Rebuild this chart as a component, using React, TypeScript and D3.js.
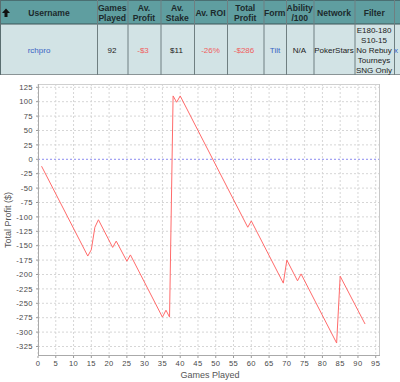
import React from "react";
import * as d3 from "d3";

// ---- Table data ----
const headerLines: string[][] = [
  ["Username"],
  ["Games", "Played"],
  ["Av.", "Profit"],
  ["Av.", "Stake"],
  ["Av. ROI"],
  ["Total", "Profit"],
  ["Form"],
  ["Ability", "/100"],
  ["Network"],
  ["Filter"],
  [],
];
const rowValues: string[] = ["rchpro", "92", "-$3", "$11", "-26%", "-$286", "Tilt", "N/A", "PokerStars", "", "x"];
const filterLines: string[] = ["E180-180", "S10-15", "No Rebuy", "Tourneys", "SNG Only"];

// ---- Chart data (turning points of the cumulative profit line) ----
const games: number[] = [1, 14, 15, 16, 17, 21, 22, 25, 26, 35, 36, 37, 38, 39, 40, 59, 60, 69, 70, 73, 74, 84, 85, 92];
const profit: number[] = [-12, -168, -157, -118, -105, -153, -142, -177, -166, -274, -262, -274, 110, 99, 110, -118, -107, -215, -175, -211, -199, -319, -203, -286];
const xTicks: number[] = [0, 5, 10, 15, 20, 25, 30, 35, 40, 45, 50, 55, 60, 65, 70, 75, 80, 85, 90, 95];
const yTicks: number[] = [125, 100, 75, 50, 25, 0, -25, -50, -75, -100, -125, -150, -175, -200, -225, -250, -275, -300, -325];

const colEdges = [0, 97, 127.5, 160.5, 194, 227, 263.5, 286, 313.5, 354.5, 394, 400];
const dataX = [39, 112, 143, 176.5, 210.5, 244, 275, 299.5, 334, 374, 396];

const red = "#f06060";
const blue = "#3a64c4";

export default function App() {
  const left = 38, right = 380, top = 84, bottom = 356;
  const x = d3.scaleLinear().domain([0, 96.2]).range([left, right]);
  const y = d3.scaleLinear().domain([-341.5, 130.7]).range([bottom, top]);
  const pts = games.map((g, i) => [g, profit[i]] as [number, number]);
  const line = d3.line<[number, number]>().x((d) => x(d[0])).y((d) => y(d[1]));
  const font = "'Liberation Sans', Arial, sans-serif";

  return (
    <svg width={400} height={382} style={{ position: "absolute", left: 0, top: 0, background: "#fff" }} fontFamily={font}>
      {/* table */}
      <rect x={0} y={0} width={400} height={24} fill="#5f9ea0" />
      <rect x={0} y={24} width={400} height={50.5} fill="#d2e3e5" />
      <line x1={0} x2={400} y1={0.5} y2={0.5} stroke="#4a6f72" />
      <line x1={0} x2={400} y1={24} y2={24} stroke="#3d5557" strokeWidth={1.2} />
      <line x1={0} x2={400} y1={74.5} y2={74.5} stroke="#8a9496" />
      {colEdges.slice(0, -1).map((cx, i) => (
        <line key={"ce" + i} x1={cx + 0.5} x2={cx + 0.5} y1={0} y2={75} stroke={i === 0 ? "#5a6e70" : "#6f7f81"} />
      ))}
      {/* sort arrow */}
      <path d="M6,8.5 L10,13 L7.5,13 L7.5,17 L4.5,17 L4.5,13 L2,13 Z" fill="#111" />
      {headerLines.map((lines, i) => {
        const cx = i === 0 ? 49 : (colEdges[i] + colEdges[i + 1]) / 2;
        return lines.map((t, j) => (
          <text key={"h" + i + "-" + j} x={cx} y={lines.length === 1 ? 16 : 10.5 + j * 10}
            textAnchor="middle" fontSize={8.6} fontWeight="bold" fill="#1c2a2c">{t}</text>
        ));
      })}
      {rowValues.map((v, i) => {
        if (!v) return null;
        const color = i === 0 || i === 6 || i === 10 ? blue : v.startsWith("-") ? red : "#222";
        return (
          <text key={"v" + i} x={dataX[i]} y={53} textAnchor="middle" fontSize={8} fill={color}>{v}</text>
        );
      })}
      {filterLines.map((t, j) => (
        <text key={"f" + j} x={dataX[9]} y={33 + j * 10} textAnchor="middle" fontSize={8} fill="#222">{t}</text>
      ))}

      {/* chart grid */}
      {xTicks.map((t) => (
        <line key={"gx" + t} x1={x(t)} x2={x(t)} y1={top} y2={bottom} stroke="#d6d6d6" strokeDasharray="2,2" />
      ))}
      {yTicks.map((t) => (
        <line key={"gy" + t} x1={left} x2={right} y1={y(t)} y2={y(t)} stroke={t === 0 ? "#8c8cf0" : "#d6d6d6"} strokeDasharray="2,2" />
      ))}
      <line x1={left} x2={right} y1={top + 0.5} y2={top + 0.5} stroke="#d0d0d0" />
      <line x1={right - 0.5} x2={right - 0.5} y1={top} y2={bottom} stroke="#c8c8c8" />
      <line x1={left + 0.5} x2={left + 0.5} y1={top} y2={bottom} stroke="#aaaaaa" />
      <line x1={left} x2={right} y1={bottom - 0.5} y2={bottom - 0.5} stroke="#aaaaaa" />

      {/* ticks & labels */}
      {yTicks.map((t) => (
        <g key={"ty" + t}>
          <line x1={left - 2} x2={left} y1={y(t)} y2={y(t)} stroke="#999" />
          <text x={33} y={y(t) + 2.8} textAnchor="end" fontSize={7.6} fill="#484848" letterSpacing={0.4}>{t}</text>
        </g>
      ))}
      {xTicks.map((t) => (
        <g key={"tx" + t}>
          <line x1={x(t)} x2={x(t)} y1={bottom} y2={bottom + 2} stroke="#999" />
          <text x={x(t)} y={366} textAnchor="middle" fontSize={7.6} fill="#484848" letterSpacing={0.4}>{t}</text>
        </g>
      ))}
      <text x={210} y={378} textAnchor="middle" fontSize={9} fill="#555">Games Played</text>
      <text transform="translate(10.5,220) rotate(-90)" textAnchor="middle" fontSize={9} fill="#555">Total Profit ($)</text>

      {/* profit line */}
      <path d={line(pts) || ""} fill="none" stroke="#ff6b6b" strokeWidth={1} />
    </svg>
  );
}
